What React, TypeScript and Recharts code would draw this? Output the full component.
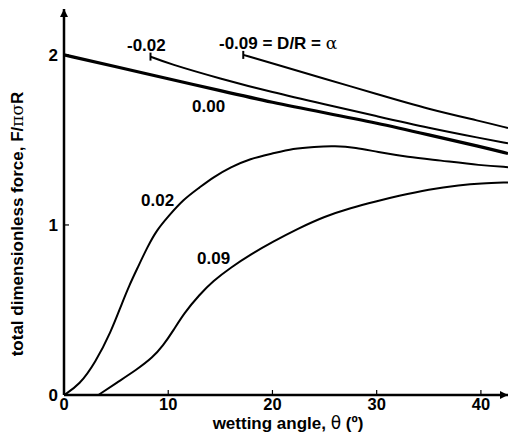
import { LineChart, Line, XAxis, YAxis } from "recharts";

// alpha = -0.09
const xM009 = [17.2, 20, 25, 30, 35, 40, 42.6];
const yM009 = [2.0, 1.95, 1.86, 1.77, 1.68, 1.61, 1.57];
// alpha = -0.02
const xM002 = [8.3, 10, 15, 20, 25, 30, 35, 40, 42.6];
const yM002 = [1.99, 1.95, 1.86, 1.78, 1.71, 1.64, 1.57, 1.51, 1.48];
// alpha = 0.00
const x000 = [0, 5, 10, 15, 20, 25, 30, 35, 40, 42.6];
const y000 = [2.0, 1.93, 1.86, 1.79, 1.72, 1.66, 1.6, 1.53, 1.46, 1.42];
// alpha = 0.02
const x002 = [0, 1.5, 3, 4.5, 5.5, 6.3, 7, 8, 8.9, 10, 11.45, 13, 14.3, 16, 17.85, 20, 22, 24, 26, 28, 30, 33, 36, 40, 42.6];
const y002 = [0, 0.06, 0.19, 0.37, 0.53, 0.65, 0.74, 0.87, 0.97, 1.05, 1.15, 1.22, 1.28, 1.34, 1.39, 1.42, 1.45, 1.46, 1.465, 1.455, 1.43, 1.4, 1.38, 1.35, 1.34];
// alpha = 0.09
const x009 = [3.3, 5, 7, 8.5, 9.5, 10.5, 11.5, 13, 14.3, 16, 18, 20, 22.5, 25, 27.5, 30, 32, 35, 38, 40, 42.6];
const y009 = [0, 0.07, 0.15, 0.22, 0.29, 0.38, 0.48, 0.59, 0.67, 0.75, 0.83, 0.9, 0.98, 1.05, 1.1, 1.14, 1.17, 1.21, 1.235, 1.245, 1.25];

const xTicks = [0, 10, 20, 30, 40];
const yTicks = [0, 1, 2];

const toRows = (xs: number[], ys: number[]) => xs.map((x, i) => ({ x, y: ys[i] }));

const FONT = "'Liberation Sans', Arial, sans-serif";

const XTick = (props: any) => {
  const { x, y, payload } = props;
  return (
    <g>
      {payload.value !== 0 && <line x1={x} y1={y} x2={x} y2={y - 5} stroke="#000" strokeWidth={1.2} />}
      <text x={x} y={y + 15} textAnchor="middle" fontFamily={FONT} fontWeight="bold" fontSize={16.5} fill="#000">
        {payload.value}
      </text>
    </g>
  );
};

const YTick = (props: any) => {
  const { x, y, payload } = props;
  return (
    <g>
      {payload.value !== 0 && <line x1={x} y1={y} x2={x + 5} y2={y} stroke="#000" strokeWidth={1.2} />}
      <text x={x - 6} y={y + 6} textAnchor="end" fontFamily={FONT} fontWeight="bold" fontSize={17} fill="#000">
        {payload.value}
      </text>
    </g>
  );
};

const startTick = (props: any) => {
  const { cx, cy, index } = props;
  if (index !== 0) return <g key={`d-${index}`} />;
  return <line key={`d-${index}`} x1={cx} y1={cy - 4} x2={cx} y2={cy + 4} stroke="#000" strokeWidth={2} />;
};

const labelStyle = { fontFamily: FONT, fontWeight: "bold" as const, fontSize: 17, fill: "#000" };

export default function App() {
  return (
    <div style={{ position: "absolute", left: 0, top: 0, width: 508, height: 436, background: "#fff" }}>
      <LineChart width={508} height={436} margin={{ top: 9, right: 0, left: 0, bottom: 0 }}>
        <defs>
          <marker id="arr" viewBox="0 0 10 10" refX="10" refY="5" markerWidth="14" markerHeight="8" markerUnits="userSpaceOnUse" orient="auto-start-reverse">
            <path d="M0,0 L10,5 L0,10 z" fill="#000" />
          </marker>
        </defs>
        <XAxis
          type="number"
          dataKey="x"
          domain={[0, 42.6]}
          ticks={xTicks}
          height={41}
          tickSize={0}
          tickMargin={0}
          tickLine={false}
          tick={<XTick />}
          axisLine={{ stroke: "#000", strokeWidth: 2.5, markerEnd: "url(#arr)" }}
          allowDataOverflow
        />
        <YAxis
          type="number"
          dataKey="y"
          domain={[0, 2.27]}
          ticks={yTicks}
          width={64}
          tickSize={0}
          tickMargin={0}
          tickLine={false}
          tick={<YTick />}
          axisLine={{ stroke: "#000", strokeWidth: 2.5, markerStart: "url(#arr)" }}
          allowDataOverflow
        />
        <Line data={toRows(xM009, yM009)} dataKey="y" type="basis" stroke="#000" strokeWidth={2} dot={startTick} activeDot={false} isAnimationActive={false} />
        <Line data={toRows(xM002, yM002)} dataKey="y" type="basis" stroke="#000" strokeWidth={2} dot={startTick} activeDot={false} isAnimationActive={false} />
        <Line data={toRows(x000, y000)} dataKey="y" type="basis" stroke="#000" strokeWidth={3.2} dot={false} activeDot={false} isAnimationActive={false} />
        <Line data={toRows(x002, y002)} dataKey="y" type="basis" stroke="#000" strokeWidth={2} dot={false} activeDot={false} isAnimationActive={false} />
        <Line data={toRows(x009, y009)} dataKey="y" type="basis" stroke="#000" strokeWidth={2} dot={false} activeDot={false} isAnimationActive={false} />
      </LineChart>
      <svg width={508} height={436} style={{ position: "absolute", left: 0, top: 0, pointerEvents: "none" }}>
        <text x={127} y={51} {...labelStyle}>-0.02</text>
        <text x={219} y={49} {...labelStyle}>
          -0.09 = D/R = <tspan fontWeight="normal" fontFamily="'DejaVu Serif', serif">α</tspan>
        </text>
        <text x={192} y={112} {...labelStyle}>0.00</text>
        <text x={141} y={206} {...labelStyle}>0.02</text>
        <text x={197} y={264} {...labelStyle}>0.09</text>
        <text
          transform="translate(23,224) rotate(-90)"
          textAnchor="middle"
          fontFamily={FONT}
          fontWeight="bold"
          fontSize={17}
          fill="#000"
        >
          total dimensionless force, F/<tspan fontWeight="normal" fontFamily="'DejaVu Serif', serif">πσ</tspan>R
        </text>
        <text x={288} y={429} textAnchor="middle" fontFamily={FONT} fontWeight="bold" fontSize={17} fill="#000">
          wetting angle, <tspan fontWeight="normal" fontFamily="'DejaVu Sans', sans-serif">θ</tspan> (º)
        </text>
      </svg>
    </div>
  );
}
